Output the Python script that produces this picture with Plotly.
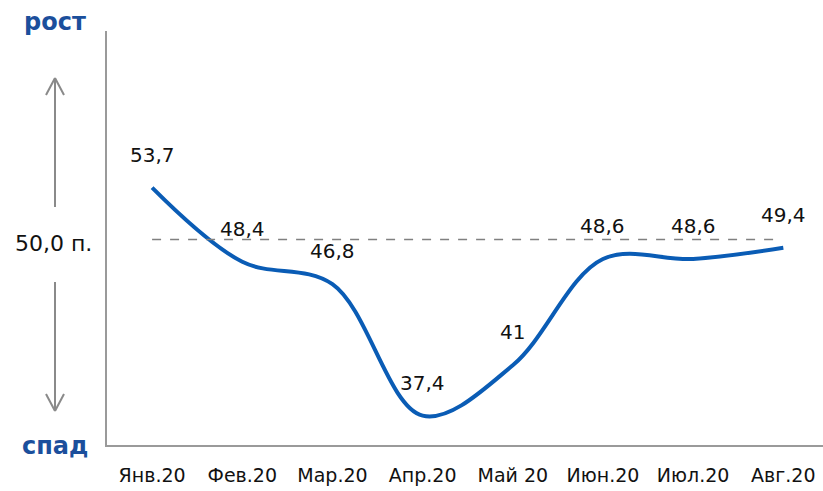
import plotly.graph_objects as go

months = ["Янв.20", "Фев.20", "Мар.20", "Апр.20", "Май 20", "Июн.20", "Июл.20", "Авг.20"]
values = [53.7, 48.4, 46.8, 37.4, 41.0, 48.6, 48.6, 49.4]
labels = ["53,7", "48,4", "46,8", "37,4", "41", "48,6", "48,6", "49,4"]
threshold = 50.0

W, H = 823, 491
ML, MR, MT, MB = 107, 0, 31, 46
FONT = "'DejaVu Sans', sans-serif"

def px(x):
    return (x - ML) / (W - ML - MR)

def py(y):
    return (H - MB - y) / (H - MT - MB)

xs = list(range(len(months)))

fig = go.Figure()
fig.add_trace(go.Scatter(
    x=xs, y=values, mode="lines",
    line=dict(color="#0a5cb5", width=4, shape="spline", smoothing=1.0),
    hoverinfo="skip", showlegend=False,
))

shapes = [
    dict(type="line", xref="x", yref="y", x0=0, x1=6.94, y0=threshold, y1=threshold,
         line=dict(color="#808080", width=1.5, dash="dash")),
]
gray = "#8a8a8a"
ax = px(55)
# up arrow
shapes.append(dict(type="line", xref="paper", yref="paper", x0=ax, x1=ax, y0=py(207), y1=py(78), line=dict(color=gray, width=2)))
shapes.append(dict(type="line", xref="paper", yref="paper", x0=px(46), x1=ax, y0=py(95), y1=py(78), line=dict(color=gray, width=2)))
shapes.append(dict(type="line", xref="paper", yref="paper", x0=px(64), x1=ax, y0=py(95), y1=py(78), line=dict(color=gray, width=2)))
# down arrow
shapes.append(dict(type="line", xref="paper", yref="paper", x0=ax, x1=ax, y0=py(282), y1=py(411), line=dict(color=gray, width=2)))
shapes.append(dict(type="line", xref="paper", yref="paper", x0=px(46), x1=ax, y0=py(394), y1=py(411), line=dict(color=gray, width=2)))
shapes.append(dict(type="line", xref="paper", yref="paper", x0=px(64), x1=ax, y0=py(394), y1=py(411), line=dict(color=gray, width=2)))

annotations = [
    dict(text="<b>рост</b>", xref="paper", yref="paper", x=px(55), y=py(22), showarrow=False,
         font=dict(size=24, color="#1b4f9c", family=FONT), xanchor="center", yanchor="middle"),
    dict(text="<b>спад</b>", xref="paper", yref="paper", x=px(55), y=py(446), showarrow=False,
         font=dict(size=24, color="#1b4f9c", family=FONT), xanchor="center", yanchor="middle"),
    dict(text="50,0 п.", xref="paper", yref="paper", x=px(54), y=py(243), showarrow=False,
         font=dict(size=22, color="#111111", family=FONT), xanchor="center", yanchor="middle"),
]
for xi, v, t in zip(xs, values, labels):
    annotations.append(dict(text=t, x=xi, y=v, xref="x", yref="y", showarrow=False,
                            yshift=33, xanchor="center", yanchor="middle",
                            font=dict(size=20, color="#111111", family=FONT)))

fig.update_layout(
    width=W, height=H, margin=dict(l=ML, r=MR, t=MT, b=MB, autoexpand=False),
    paper_bgcolor="white", plot_bgcolor="white",
    shapes=shapes, annotations=annotations,
    xaxis=dict(range=[-0.5, 7.44], tickvals=xs, ticktext=months, automargin=False,
               showgrid=False, zeroline=False, showline=True, linecolor="#9a9a9a", linewidth=1.5,
               ticks="", ticklabelstandoff=12,
               tickfont=dict(size=19, color="#111111", family=FONT)),
    yaxis=dict(range=[35.3, 64.9], showticklabels=False, showgrid=False, zeroline=False,
               automargin=False,
               showline=True, linecolor="#9a9a9a", linewidth=1.5, ticks=""),
    font=dict(family=FONT),
)

fig.write_html("out.html", config={"displayModeBar": False},
               post_script="document.body.style.margin='0';document.body.style.overflow='hidden';")
